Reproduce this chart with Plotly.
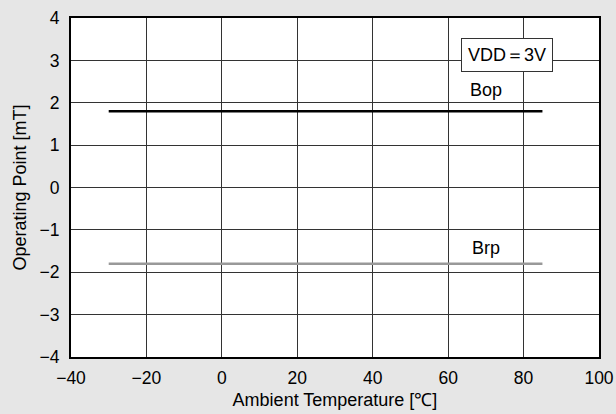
import plotly.graph_objects as go

temperature = [-30, 85]
bop = [1.8, 1.8]
brp = [-1.8, -1.8]
x_ticks = [-40, -20, 0, 20, 40, 60, 80, 100]
y_ticks = [-4, -3, -2, -1, 0, 1, 2, 3, 4]

font_family = "Liberation Sans, Arial, sans-serif"

fig = go.Figure()
fig.add_trace(go.Scatter(x=temperature, y=bop, mode="lines",
                         line=dict(color="#000000", width=2.5), name="Bop"))
fig.add_trace(go.Scatter(x=temperature, y=brp, mode="lines",
                         line=dict(color="#999999", width=2.5), name="Brp"))

fig.add_annotation(x=70, y=2.29, text="Bop", showarrow=False,
                   font=dict(size=18, color="#000"))
fig.add_annotation(x=70, y=-1.42, text="Brp", showarrow=False,
                   font=dict(size=18, color="#000"))
fig.add_annotation(x=75.6, y=3.12, text="VDD＝3V", showarrow=False,
                   font=dict(size=18, color="#000"), bgcolor="#ffffff",
                   bordercolor="#333333", borderwidth=1, borderpad=6)

fig.update_layout(
    width=616, height=414,
    margin=dict(l=71, r=17, t=18, b=57),
    paper_bgcolor="#e6e6e6", plot_bgcolor="#ffffff",
    showlegend=False,
    font=dict(family=font_family, size=18, color="#000"),
    xaxis=dict(range=[-40, 100], tickvals=x_ticks, showgrid=True,
               gridcolor="#333333", gridwidth=1, zeroline=False,
               showline=True, linecolor="#000", linewidth=2, mirror=True,
               ticks="", tickfont=dict(size=17.5), automargin=False,
               ticklabelstandoff=4,
               title=dict(text="Ambient Temperature [℃]", font=dict(size=18), standoff=6)),
    yaxis=dict(range=[-4, 4], tickvals=y_ticks, showgrid=True,
               gridcolor="#333333", gridwidth=1, zeroline=False,
               showline=True, linecolor="#000", linewidth=2, mirror=True,
               ticks="", tickfont=dict(size=17.5), automargin=False,
               ticklabelstandoff=6,
               title=dict(text="Operating Point [mT]", font=dict(size=18), standoff=8)),
)

fig.write_html("out.html",
               config={"displayModeBar": False},
               post_script="document.body.style.margin='0';document.body.style.overflow='hidden';")
